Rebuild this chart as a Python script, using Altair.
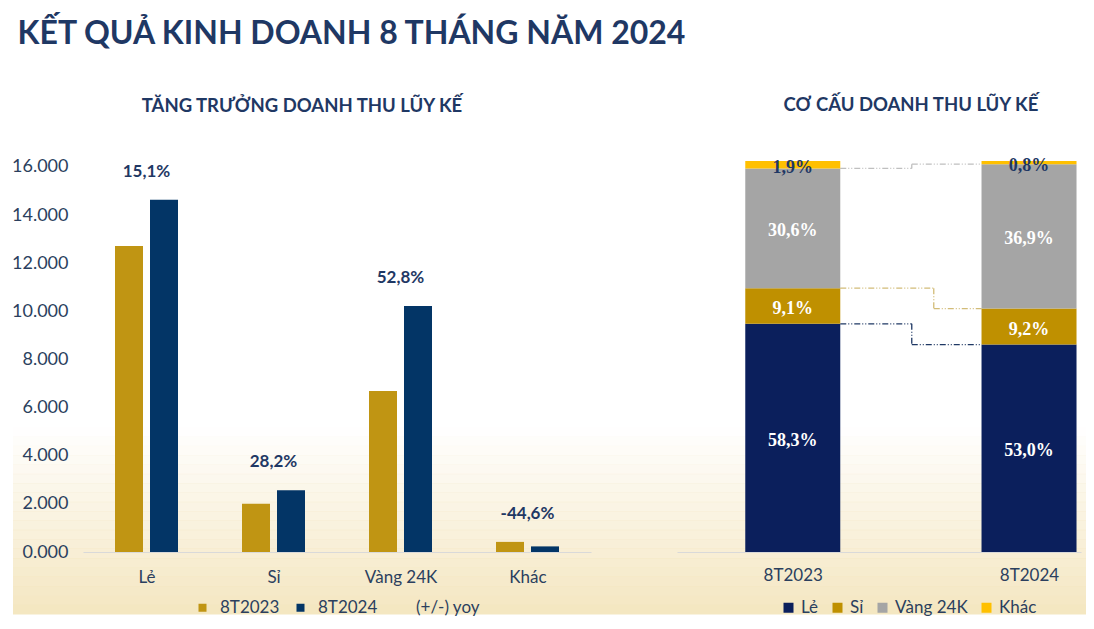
import altair as alt
import pandas as pd

# ---------------- data ----------------
categories = ["Lẻ", "Sỉ", "Vàng 24K", "Khác"]
periods = ["8T2023", "8T2024"]
rev_2023 = [12720, 2000, 6690, 420]
rev_2024 = [14640, 2565, 10220, 233]
yoy_labels = ["15,1%", "28,2%", "52,8%", "-44,6%"]
yoy_legend = "(+/-) yoy"

segments = ["Lẻ", "Sỉ", "Vàng 24K", "Khác"]
share_2023 = [58.3, 9.1, 30.6, 1.9]
share_2024 = [53.0, 9.2, 36.9, 0.8]
share_labels_2023 = ["58,3%", "9,1%", "30,6%", "1,9%"]
share_labels_2024 = ["53,0%", "9,2%", "36,9%", "0,8%"]

# ---------------- style ----------------
NAVY_TXT = "#1F3864"
AXIS_TXT = "#2B3F5E"
GOLD = "#C09513"
NAVY = "#033566"
R_NAVY = "#0B1F5C"
R_GOLD = "#BF9000"
R_GRAY = "#A5A5A5"
R_YELLOW = "#FFC000"
CREAM = "#F4E6C0"
FONT = "Lato"

LW, RW, H = 508, 404, 391
SPACING = 86
LDOM = [-0.5, 3.5]
RDOM = [-0.49, 1.22]
BAR_L, GAP_L = 28, 7
BAR_R = 95


def fade_layers(x0, x1, y0=266, y1=453, n=20):
    """cream fade at the bottom of the page, drawn as translucent bands"""
    out = []
    for i in range(n):
        a = y0 + (y1 - y0) * i / n
        b = y0 + (y1 - y0) * (i + 1) / n + 0.5
        out.append(
            alt.Chart(pd.DataFrame({"k": [0]})).mark_rect(
                color=CREAM, opacity=(i + 0.5) / n, strokeWidth=0
            ).encode(x=alt.value(x0), x2=alt.value(x1), y=alt.value(a), y2=alt.value(b))
        )
    return out


# ---------------- left chart ----------------
l_ppu = LW / (LDOM[1] - LDOM[0])
l_off = (BAR_L + GAP_L) / 2 / l_ppu
rows_l = []
for i, c in enumerate(categories):
    rows_l.append(dict(cat=c, period=periods[0], xpos=i - l_off, value=rev_2023[i]))
    rows_l.append(dict(cat=c, period=periods[1], xpos=i + l_off, value=rev_2024[i]))
left_df = pd.DataFrame(rows_l)
yoy_df = pd.DataFrame({
    "xpos": list(range(len(categories))),
    "label": yoy_labels,
    "top": [max(a, b) for a, b in zip(rev_2023, rev_2024)],
})

cat_array = "[" + ",".join(f"'{c}'" for c in categories) + "]"
xl_scale = alt.Scale(domain=LDOM, nice=False, zero=False, padding=0)
xl_axis = alt.Axis(title=None, values=list(range(len(categories))),
                   labelExpr=f"{cat_array}[datum.value]", labelAngle=0,
                   labelFontSize=17, labelFont=FONT, labelColor=AXIS_TXT,
                   domainColor="#D9D9D9", ticks=False, grid=False, labelPadding=17,
                   zindex=1)
yl_scale = alt.Scale(domain=[0, 16249], nice=False)
yl_axis = alt.Axis(title=None, values=list(range(0, 16001, 2000)),
                   labelExpr="format(datum.value/1000, '.3f')",
                   domain=False, ticks=False, grid=False, labelFontSize=18,
                   labelFont=FONT, labelColor=AXIS_TXT, labelPadding=15, zindex=1)

bars_l = alt.Chart(left_df).mark_bar(size=BAR_L).encode(
    x=alt.X("xpos:Q", scale=xl_scale, axis=xl_axis),
    y=alt.Y("value:Q", scale=yl_scale, axis=yl_axis),
    color=alt.Color("period:N",
                    scale=alt.Scale(domain=periods + [yoy_legend],
                                    range=[GOLD, NAVY, "rgba(255,255,255,0)"]),
                    legend=alt.Legend(title=None, orient="none", direction="horizontal",
                                      legendX=111, legendY=438,
                                      symbolType="square", symbolSize=64,
                                      symbolStrokeWidth=0, labelFont=FONT,
                                      labelFontSize=17, labelColor=AXIS_TXT,
                                      labelOffset=9, columnPadding=12)),
)
text_l = alt.Chart(yoy_df).mark_text(
    dy=-28, baseline="middle", fontWeight="bold", fontSize=17, font=FONT, color=NAVY_TXT
).encode(
    x=alt.X("xpos:Q", scale=xl_scale, axis=xl_axis),
    y=alt.Y("top:Q", scale=yl_scale, axis=yl_axis),
    text="label:N",
)

left = alt.layer(*fade_layers(-70, LW + SPACING), bars_l, text_l).properties(
    width=LW, height=H,
    title=alt.TitleParams("TĂNG TRƯỞNG DOANH THU LŨY KẾ", fontSize=18.5, fontWeight="bold",
                          font=FONT, color=NAVY_TXT, anchor="middle", frame="group",
                          dx=-35, offset=42),
)

# ---------------- right chart ----------------
rows = []
cums = []
for i, (shares, labels) in enumerate([(share_2023, share_labels_2023),
                                      (share_2024, share_labels_2024)]):
    c = 0.0
    cum = []
    for seg, s, lab in zip(segments, shares, labels):
        rows.append(dict(xpos=i, seg=seg, y0=c, y1=c + s, mid=c + s / 2, label=lab))
        c += s
        cum.append(c)
    cums.append(cum)
right_df = pd.DataFrame(rows)
total = max(cums[0][-1], cums[1][-1])

r_ppu = RW / (RDOM[1] - RDOM[0])
half = BAR_R / 2 / r_ppu

xr_scale = alt.Scale(domain=RDOM, nice=False, zero=False, padding=0)
xr_axis = alt.Axis(title=None, values=[0, 1],
                   labelExpr=f"datum.value < 0.5 ? '{periods[0]}' : '{periods[1]}'",
                   labelFontSize=17, labelFont=FONT, labelColor=AXIS_TXT,
                   domainColor="#D9D9D9", ticks=False, grid=False, labelPadding=15,
                   zindex=1)
yr_scale = alt.Scale(domain=[0, total], nice=False)

bars_r = alt.Chart(right_df).mark_bar(size=BAR_R).encode(
    x=alt.X("xpos:Q", scale=xr_scale, axis=xr_axis),
    y=alt.Y("y0:Q", scale=yr_scale, axis=None),
    y2="y1:Q",
    color=alt.Color("seg:N",
                    scale=alt.Scale(domain=segments, range=[R_NAVY, R_GOLD, R_GRAY, R_YELLOW]),
                    legend=alt.Legend(title=None, orient="none", direction="horizontal",
                                      legendX=103, legendY=438,
                                      symbolType="square", symbolSize=100,
                                      symbolStrokeWidth=0, labelFont=FONT,
                                      labelFontSize=17, labelColor=AXIS_TXT,
                                      labelOffset=4, columnPadding=10)),
)
text_r_white = alt.Chart(right_df).transform_filter(
    alt.datum.seg != segments[-1]
).mark_text(
    dy=3, baseline="middle", fontWeight="bold", fontSize=18, font="Liberation Serif",
    color="#FFFFFF"
).encode(
    x=alt.X("xpos:Q", scale=xr_scale, axis=xr_axis),
    y=alt.Y("mid:Q", scale=yr_scale, axis=None), text="label:N",
)
text_r_dark = alt.Chart(right_df).transform_filter(
    alt.datum.seg == segments[-1]
).mark_text(
    dy=3, baseline="middle", fontWeight="bold", fontSize=18, font="Liberation Serif",
    color=NAVY_TXT
).encode(
    x=alt.X("xpos:Q", scale=xr_scale, axis=xr_axis),
    y=alt.Y("mid:Q", scale=yr_scale, axis=None), text="label:N",
)

# dash-dot connectors between stack boundaries (three rule segments each)
conn_mid = {0: (911 - 792) / r_ppu, 1: (933 - 792) / r_ppu, 2: (911 - 792) / r_ppu}
conn_color = {0: "#1F3864", 1: "#D2BC78", 2: "#BFBFBF"}
conn_layers = []
for k in [0, 1, 2]:
    b23, b24 = cums[0][k], cums[1][k]
    xm = conn_mid[k]
    cdf = pd.DataFrame({
        "xa": [half, xm, xm],
        "xb": [xm, xm, 1 - half],
        "ya": [b23, b23, b24],
        "yb": [b23, b24, b24],
    })
    conn_layers.append(
        alt.Chart(cdf).mark_rule(strokeDash=[6, 2, 1, 2, 1, 2], strokeWidth=1.3,
                                 color=conn_color[k]).encode(
            x=alt.X("xa:Q", scale=xr_scale, axis=xr_axis), x2="xb:Q",
            y=alt.Y("ya:Q", scale=yr_scale, axis=None), y2="yb:Q")
    )

right = alt.layer(*fade_layers(0, RW + 5), *conn_layers, bars_r, text_r_white,
                  text_r_dark).properties(
    width=RW, height=H,
    title=alt.TitleParams("CƠ CẤU DOANH THU LŨY KẾ", fontSize=18.5, fontWeight="bold",
                          font=FONT, color=NAVY_TXT, anchor="middle", frame="group",
                          dx=32, offset=42),
)

chart = alt.hconcat(left, right, spacing=0).resolve_scale(
    color="independent"
).properties(
    title=alt.TitleParams("KẾT QUẢ KINH DOANH 8 THÁNG NĂM 2024", fontSize=32,
                          fontWeight="bold", font=FONT, color=NAVY_TXT, anchor="start",
                          dx=6, offset=45),
    padding={"left": 3, "top": 10, "right": 0, "bottom": 0},
).configure_view(stroke=None)

chart.save("out.html", embed_options={"renderer": "svg", "actions": False})
